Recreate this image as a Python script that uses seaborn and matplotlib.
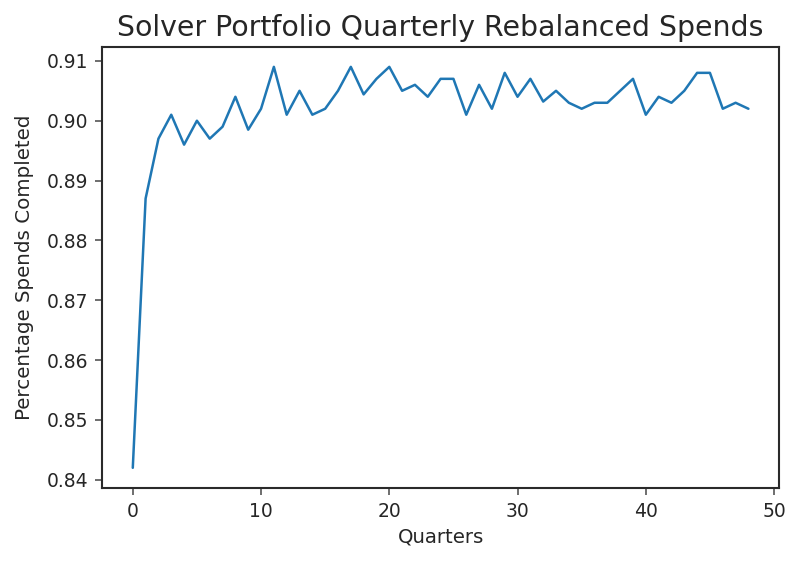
import numpy as np
import pandas as pd
import matplotlib
matplotlib.use("Agg")
import matplotlib.pyplot as plt
import seaborn as sns

quarters = list(range(49))
spends = [0.842, 0.887, 0.897, 0.901, 0.896, 0.900, 0.897, 0.899, 0.904, 0.8985,
          0.902, 0.909, 0.901, 0.905, 0.901, 0.902, 0.905, 0.909, 0.9044, 0.907,
          0.909, 0.905, 0.906, 0.904, 0.907, 0.907, 0.901, 0.906, 0.902, 0.908,
          0.904, 0.907, 0.9032, 0.905, 0.903, 0.902, 0.903, 0.903, 0.905, 0.907,
          0.901, 0.904, 0.903, 0.905, 0.908, 0.908, 0.902, 0.903, 0.902]

df = pd.DataFrame({"Quarters": quarters, "Spends": spends})

sns.set_style("ticks")
plt.rcParams['font.family'] = ['DejaVu Sans']
plt.rcParams['axes.edgecolor'] = '#2a2a2a'
plt.rcParams['axes.linewidth'] = 1.5

fig = plt.figure(figsize=(8, 5.64), dpi=100)
ax = fig.add_axes([0.1275, 0.135, 0.8465, 0.782])
sns.lineplot(data=df, x="Quarters", y="Spends", ax=ax, color="#1f77b4", linewidth=1.8)
ax.set_title("Solver Portfolio Quarterly Rebalanced Spends", fontsize=20.4, pad=8)
ax.set_xlabel("Quarters", fontsize=14.2, labelpad=5)
ax.set_ylabel("Percentage Spends Completed", fontsize=14.3, labelpad=9)
ax.set_yticks([0.84, 0.85, 0.86, 0.87, 0.88, 0.89, 0.90, 0.91])
ax.set_xticks([0, 10, 20, 30, 40, 50])
ax.tick_params(labelsize=13.5, length=5, width=1.2, color='#555555', pad=5)
fig.savefig("out.png", dpi=100)
